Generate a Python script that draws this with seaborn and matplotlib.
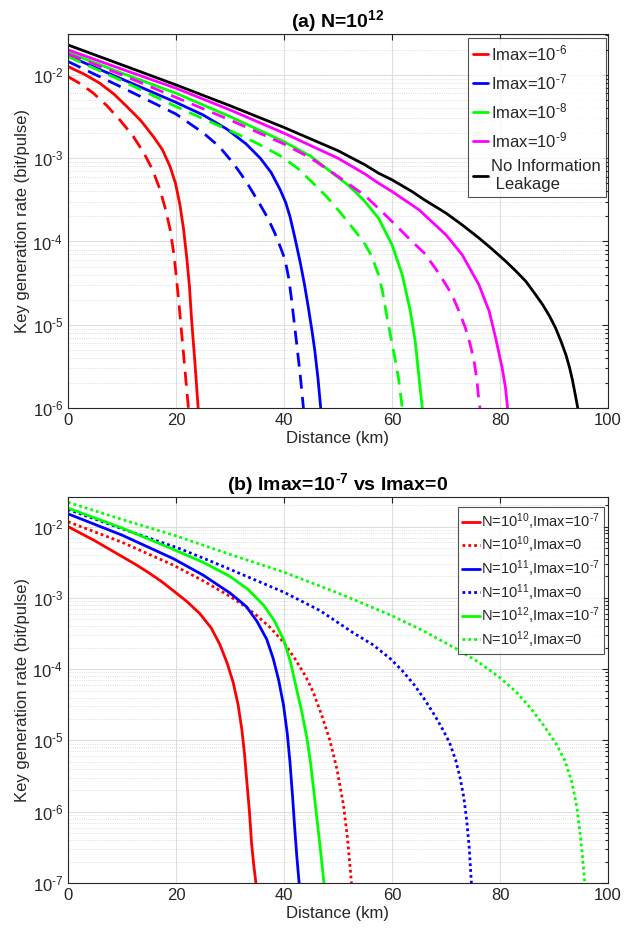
import numpy as np
import pandas as pd
import matplotlib
matplotlib.use("Agg")
import matplotlib.pyplot as plt
import seaborn as sns
from matplotlib.ticker import LogLocator, NullFormatter, FuncFormatter

# ---------------- data: panel (a) N=10^12 ----------------
black_x = [0, 10, 20, 30, 40, 50, 55, 57.5, 60, 63.7, 66, 70, 73, 76.1, 78.5, 81.1, 83, 84.8, 86.5,
           87.9, 89.2, 90.3, 91.3, 92.2, 92.9, 93.4, 94, 94.4]
black_y = [2.29e-2, 1.32e-2, 7.59e-3, 4.27e-3, 2.34e-3, 1.23e-3, 8.32e-4, 6.61e-4, 5.50e-4, 3.98e-4,
           3.16e-4, 2.19e-4, 1.58e-4, 1.10e-4, 8.13e-5, 5.75e-5, 4.37e-5, 3.31e-5, 2.34e-5,
           1.74e-5, 1.26e-5, 9.12e-6, 6.31e-6, 4.37e-6, 3.02e-6, 2.19e-6, 1.38e-6, 1.0e-6]

mag_x = [0, 10, 20, 30, 40, 45, 50, 55, 57.5, 60, 65, 70, 73, 76.1, 78, 79.2, 80.4, 81, 81.4]
mag_y = [2.0e-2, 1.17e-2, 6.92e-3, 3.80e-3, 2.0e-3, 1.41e-3, 1.0e-3, 6.46e-4, 5.01e-4, 3.98e-4,
         2.40e-4, 1.20e-4, 6.92e-5, 3.02e-5, 1.45e-5, 6.92e-6, 3.02e-6, 1.78e-6, 1.0e-6]

magd_x = [0, 10, 20, 30, 40, 45, 50, 55, 58.1, 60, 63.7, 66, 68, 70, 71.1, 72.5, 73.6, 74.5, 75.2,
          75.7, 76.1, 76.3]
magd_y = [1.78e-2, 1.0e-2, 5.37e-3, 2.88e-3, 1.48e-3, 1.0e-3, 6.03e-4, 3.55e-4, 2.29e-4, 1.74e-4,
          1.0e-4, 7.24e-5, 4.79e-5, 3.02e-5, 2.29e-5, 1.41e-5, 9.12e-6, 5.75e-6, 3.63e-6,
          2.24e-6, 1.20e-6, 1.0e-6]

grn_x = [0, 10, 20, 30, 40, 45, 49, 52, 54.7, 57.5, 60, 61.9, 63.4, 64.3, 64.95, 65.6]
grn_y = [1.86e-2, 1.05e-2, 6.03e-3, 3.16e-3, 1.58e-3, 1.05e-3, 6.61e-4, 4.68e-4, 3.16e-4, 1.91e-4,
         9.12e-5, 3.98e-5, 1.45e-5, 6.31e-6, 2.51e-6, 1.0e-6]

grnd_x = [0, 10, 20, 30, 35, 39.3, 42.5, 45.4, 48, 50.4, 52.5, 54.7, 56.2, 57.5, 58.3, 59.1, 60.3,
          61.2, 61.9]
grnd_y = [1.66e-2, 8.51e-3, 4.17e-3, 2.14e-3, 1.51e-3, 1.07e-3, 7.59e-4, 5.01e-4, 3.39e-4, 2.24e-4,
          1.51e-4, 1.0e-4, 6.76e-5, 3.98e-5, 2.40e-5, 1.20e-5, 4.79e-6, 2.29e-6, 1.0e-6]

blu_x = [0, 10, 20, 25, 29.4, 33, 35.6, 37.6, 39.3, 40.3, 41.1, 42, 43, 43.8, 44.5, 45.2, 45.7, 46.3, 46.8]
blu_y = [1.70e-2, 8.91e-3, 4.68e-3, 3.31e-3, 2.24e-3, 1.48e-3, 1.0e-3, 6.76e-4, 4.17e-4, 2.95e-4,
         2.0e-4, 1.12e-4, 5.62e-5, 3.02e-5, 1.62e-5, 8.32e-6, 4.90e-6, 2.24e-6, 1.0e-6]

blud_x = [0, 10, 20, 25.1, 28, 30.6, 33, 35.6, 37, 38.3, 39.4, 40.2, 40.9, 41.4, 42.3, 43, 43.6]
blud_y = [1.45e-2, 7.08e-3, 3.39e-3, 2.0e-3, 1.38e-3, 8.71e-4, 5.25e-4, 2.75e-4, 1.91e-4, 1.26e-4,
          8.32e-5, 6.03e-5, 3.55e-5, 2.0e-5, 6.31e-6, 2.51e-6, 1.0e-6]

red_x = [0, 3, 5.9, 8.5, 10.9, 13.5, 15.8, 17.5, 18.9, 19.9, 20.7, 21.4, 22, 22.5, 22.9, 23.5, 24.1]
red_y = [1.26e-2, 1.02e-2, 7.94e-3, 5.89e-3, 4.17e-3, 2.82e-3, 1.82e-3, 1.26e-3, 7.94e-4, 5.01e-4,
         2.82e-4, 1.41e-4, 6.31e-5, 2.82e-5, 1.12e-5, 3.55e-6, 1.0e-6]

redd_x = [0, 2.4, 4.7, 7.2, 9.6, 12, 14, 15.6, 17, 18, 18.9, 19.6, 20.1, 20.6, 21, 21.6, 22.3]
redd_y = [9.55e-3, 7.76e-3, 6.03e-3, 4.27e-3, 2.88e-3, 1.86e-3, 1.17e-3, 7.41e-4, 4.27e-4, 2.51e-4,
          1.41e-4, 7.08e-5, 3.55e-5, 1.66e-5, 8.51e-6, 3.16e-6, 1.0e-6]

# ---------------- data: panel (b) Imax=1e-7 vs Imax=0 ----------------
b_r7_x = [0, 5, 10, 12.5, 15, 17.3, 19.5, 22, 24.4, 26.5, 28.1, 29.5, 30.6, 31.5, 32.2, 32.7, 33.1,
          33.6, 34, 34.4, 34.8]
b_r7_y = [1.0e-2, 6.31e-3, 3.80e-3, 2.95e-3, 2.24e-3, 1.70e-3, 1.26e-3, 8.91e-4, 6.03e-4, 3.80e-4,
          2.24e-4, 1.20e-4, 6.46e-5, 3.16e-5, 1.41e-5, 6.31e-6, 2.75e-6, 1.0e-6, 3.55e-7, 1.78e-7, 1.0e-7]

b_r0_x = [0, 10, 19.5, 25, 30, 33, 35, 37.5, 40, 42, 44, 45.4, 47, 48.5, 49.8, 51, 51.8, 52.5]
b_r0_y = [1.17e-2, 6.03e-3, 2.88e-3, 1.74e-3, 1.05e-3, 7.41e-4, 5.62e-4, 3.80e-4, 2.34e-4, 1.41e-4,
          7.94e-5, 4.79e-5, 2.24e-5, 1.0e-5, 3.98e-6, 1.26e-6, 3.98e-7, 1.0e-7]

b_b7_x = [0, 10, 19.5, 25, 30, 33, 35, 36.8, 38, 39, 39.9, 40.6, 41.1, 41.6, 42, 42.4, 42.8]
b_b7_y = [1.51e-2, 7.59e-3, 3.55e-3, 2.09e-3, 1.17e-3, 7.59e-4, 4.68e-4, 2.63e-4, 1.41e-4, 7.08e-5,
          3.16e-5, 1.26e-5, 5.01e-6, 1.58e-6, 5.62e-7, 2.24e-7, 1.0e-7]

b_b0_x = [0, 10, 20.7, 26.9, 33.1, 40, 46.7, 52.8, 56.5, 59.8, 62, 64, 66, 68, 69.5, 70.7, 71.8,
          72.6, 73.3, 73.8, 74.3, 74.7]
b_b0_y = [1.74e-2, 9.33e-3, 4.90e-3, 3.16e-3, 2.0e-3, 1.20e-3, 6.61e-4, 3.24e-4, 2.19e-4, 1.38e-4,
          9.33e-5, 6.17e-5, 3.80e-5, 2.19e-5, 1.38e-5, 9.12e-6, 5.25e-6, 3.02e-6, 1.58e-6, 7.94e-7,
          3.16e-7, 1.0e-7]

b_g7_x = [0, 10, 19.5, 25, 30, 33.3, 36.2, 38.2, 40, 41.2, 42.3, 43.3, 44.2, 44.9, 45.5, 46.1, 46.7, 47.4]
b_g7_y = [1.82e-2, 9.55e-3, 4.79e-3, 3.16e-3, 2.0e-3, 1.32e-3, 7.94e-4, 4.79e-4, 2.51e-4, 1.26e-4,
          5.37e-5, 2.51e-5, 1.12e-5, 5.01e-6, 2.0e-6, 7.94e-7, 3.16e-7, 1.0e-7]

b_g0_x = [0, 10, 20, 30, 40, 50, 60, 66, 72, 76, 80, 83, 85.7, 88, 90.5, 92, 93.3, 94.2, 94.9, 95.3, 95.7]
b_g0_y = [2.19e-2, 1.26e-2, 7.41e-3, 4.07e-3, 2.29e-3, 1.17e-3, 5.62e-4, 3.39e-4, 1.91e-4, 1.26e-4,
          7.59e-5, 4.79e-5, 2.82e-5, 1.66e-5, 8.71e-6, 5.25e-6, 2.63e-6, 1.20e-6, 4.47e-7, 2.24e-7, 1.0e-7]

HY = "\u2010"
labels_a = [f"Imax=10$^{{{HY}6}}$", f"Imax=10$^{{{HY}7}}$", f"Imax=10$^{{{HY}8}}$",
            f"Imax=10$^{{{HY}9}}$", "No Information\n Leakage"]
labels_b = [f"N=10$^{{10}}$,Imax=10$^{{{HY}7}}$", "N=10$^{10}$,Imax=0",
            f"N=10$^{{11}}$,Imax=10$^{{{HY}7}}$", "N=10$^{11}$,Imax=0",
            f"N=10$^{{12}}$,Imax=10$^{{{HY}7}}$", "N=10$^{12}$,Imax=0"]
titles = ["(a) N=10$^{12}$", f"(b) Imax=10$^{{{HY}7}}$ vs Imax=0"]

# ---------------- style ----------------
sns.set_theme(style="white")
plt.rcParams["font.family"] = ["Liberation Sans", "DejaVu Sans"]
plt.rcParams["mathtext.default"] = "regular"
plt.rcParams["axes.unicode_minus"] = False
plt.rcParams["lines.solid_joinstyle"] = "round"
plt.rcParams["lines.dash_joinstyle"] = "round"

RED, BLUE, GREEN, MAG, BLACK = "#ff0000", "#0000ff", "#00ff00", "#ff00ff", "#000000"
LW = 2.0
TXT = "#262626"
DASH = (0, (5, 3))
DOT = (0, (1, 1.1))

fig = plt.figure(figsize=(6.25, 9.38), dpi=100)
ax1 = fig.add_axes([68 / 625, 1 - 408 / 938, 540 / 625, 374 / 938])
ax2 = fig.add_axes([68 / 625, 1 - 883 / 938, 540 / 625, 386 / 938])


def draw(ax, x, y, color, ls, label=None):
    df = pd.DataFrame({"x": x, "y": y})
    sns.lineplot(data=df, x="x", y="y", ax=ax, color=color, linestyle=ls,
                 linewidth=LW, label=label, legend=False, sort=False,
                 estimator=None)


# panel (a)
draw(ax1, red_x, red_y, RED, "-", labels_a[0])
draw(ax1, redd_x, redd_y, RED, DASH)
draw(ax1, blu_x, blu_y, BLUE, "-", labels_a[1])
draw(ax1, blud_x, blud_y, BLUE, DASH)
draw(ax1, grn_x, grn_y, GREEN, "-", labels_a[2])
draw(ax1, grnd_x, grnd_y, GREEN, DASH)
draw(ax1, mag_x, mag_y, MAG, "-", labels_a[3])
draw(ax1, magd_x, magd_y, MAG, DASH)
draw(ax1, black_x, black_y, BLACK, "-", labels_a[4])

# panel (b)
draw(ax2, b_r7_x, b_r7_y, RED, "-", labels_b[0])
draw(ax2, b_r0_x, b_r0_y, RED, DOT, labels_b[1])
draw(ax2, b_b7_x, b_b7_y, BLUE, "-", labels_b[2])
draw(ax2, b_b0_x, b_b0_y, BLUE, DOT, labels_b[3])
draw(ax2, b_g7_x, b_g7_y, GREEN, "-", labels_b[4])
draw(ax2, b_g0_x, b_g0_y, GREEN, DOT, labels_b[5])

tick_fmt = FuncFormatter(lambda v, p: f"10$^{{{HY}{int(round(-np.log10(v)))}}}$")

for ax, ylo, yhi, title in [(ax1, 1e-6, 3.1e-2, titles[0]),
                            (ax2, 1e-7, 2.6e-2, titles[1])]:
    ax.set_yscale("log")
    ax.set_xlim(0, 100)
    ax.set_ylim(ylo, yhi)
    ax.set_xticks([0, 20, 40, 60, 80, 100])
    ax.yaxis.set_major_locator(LogLocator(base=10, numticks=20))
    ax.yaxis.set_major_formatter(tick_fmt)
    ax.yaxis.set_minor_locator(LogLocator(base=10, subs=np.arange(2, 10), numticks=20))
    ax.yaxis.set_minor_formatter(NullFormatter())
    ax.grid(True, which="major", color="#dedede", linewidth=0.8, linestyle="-")
    ax.grid(True, which="minor", axis="y", color="#d4d4d4", linewidth=0.6, linestyle=":")
    ax.set_axisbelow(True)
    ax.tick_params(which="both", direction="in", top=True, right=True,
                   colors=TXT, labelsize=12, length=4, width=0.8)
    ax.tick_params(which="minor", length=2)
    for s in ax.spines.values():
        s.set_color(TXT)
        s.set_linewidth(0.8)
    ax.set_xlabel("Distance (km)", fontsize=12, color=TXT, labelpad=2)
    ax.set_ylabel("Key generation rate (bit/pulse)", fontsize=12, color=TXT, labelpad=2)
    ax.set_title(title, fontsize=14, fontweight="bold", color="black", pad=5)

leg1 = ax1.legend(loc="upper right", bbox_to_anchor=(1 - 2 / 540, 1 - 4 / 374),
                  borderaxespad=0, fontsize=12, frameon=True, fancybox=False,
                  edgecolor="#262626", handlelength=0.9, handletextpad=0.2,
                  borderpad=0.3, labelspacing=0.55)
leg1.get_frame().set_linewidth(0.8)
leg2 = ax2.legend(loc="upper right", bbox_to_anchor=(1 - 4 / 540, 1 - 10 / 386),
                  borderaxespad=0, fontsize=10.5, frameon=True, fancybox=False,
                  edgecolor="#262626", handlelength=1.2, handletextpad=0.1,
                  borderpad=0.3, labelspacing=0.2)
leg2.get_frame().set_linewidth(0.8)

fig.savefig("out.png", dpi=100, facecolor="white")
